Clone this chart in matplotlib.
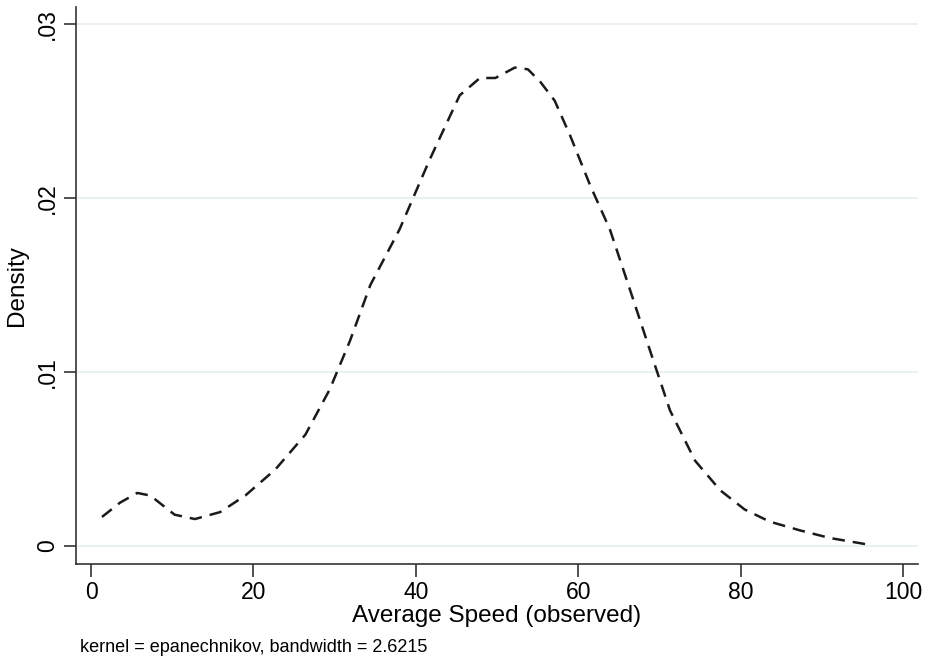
import numpy as np
import matplotlib.pyplot as plt

# density estimate (kernel = epanechnikov)
speed = [1.35, 3.6, 5.7, 7.3, 10.3, 12.8, 15.9, 19.0, 22.7, 26.4, 29.4, 31.9, 34.4,
         38.0, 41.7, 45.4, 47.9, 49.8, 52.2, 53.8, 55.3, 57.1, 59.0, 61.5, 63.9,
         66.4, 68.8, 71.3, 74.4, 77.5, 80.5, 83.6, 87.3, 91.0, 96.0]
density = [0.00167, 0.0025, 0.00305, 0.0029, 0.0018, 0.00155, 0.00195, 0.0029, 0.0044,
           0.0064, 0.0090, 0.0118, 0.0150, 0.0182, 0.0222, 0.0259, 0.0269, 0.0269,
           0.0275, 0.0274, 0.0267, 0.0256, 0.0236, 0.0207, 0.0182, 0.0147, 0.0113,
           0.0078, 0.0049, 0.0032, 0.0021, 0.0014, 0.0009, 0.00046, 0.00006]
xticks = [0, 20, 40, 60, 80, 100]
yticks = [0, 0.01, 0.02, 0.03]
ylabels = ['0', '.01', '.02', '.03']

plt.rcParams['font.family'] = ['Liberation Sans', 'DejaVu Sans']

fig = plt.figure(figsize=(9.28, 6.62), dpi=100)
ax = fig.add_axes([76/928, 1 - 564/662, (918-76)/928, (564-7)/662])

ax.plot(speed, density, color='#1a1a1a', lw=1.8, dashes=(5, 3.2))

ax.set_xlim(-1.85, 101.85)
ax.set_ylim(-0.001034, 0.03098)
ax.set_xticks(xticks)
ax.set_xticklabels([str(t) for t in xticks], fontsize=16.5)
ax.set_yticks(yticks)
ax.set_yticklabels(ylabels, fontsize=16.5, rotation=90, va='center')
ax.tick_params(axis='both', direction='out', length=9, width=1.2, color='#333333')
ax.tick_params(axis='x', pad=3)
ax.tick_params(axis='y', pad=3)

for y in yticks:
    ax.axhline(y, color='#e6eff1', lw=1.2, zorder=0)

for s in ['top', 'right']:
    ax.spines[s].set_visible(False)
for s in ['left', 'bottom']:
    ax.spines[s].set_color('#333333')
    ax.spines[s].set_linewidth(1.2)

ax.set_xlabel('Average Speed (observed)', fontsize=17.5, labelpad=1)
ax.set_ylabel('Density', fontsize=17.5, labelpad=6)
fig.text(80/928, 1 - 647/662, 'kernel = epanechnikov, bandwidth = 2.6215', fontsize=13, va='center')

fig.savefig('out.png', dpi=100)
